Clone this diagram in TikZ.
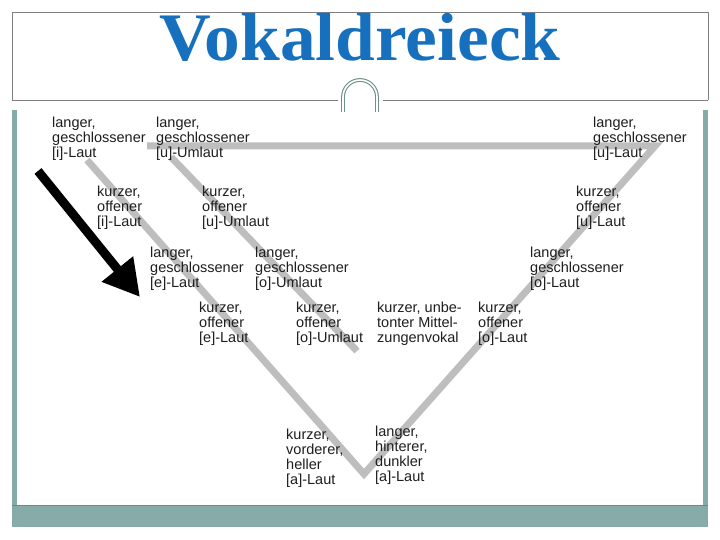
\documentclass[tikz,border=0pt]{standalone}
\usepackage{fontspec}
\setmainfont{Liberation Sans}
\newfontfamily\titlefont{Liberation Serif}
\usetikzlibrary{arrows.meta}
\definecolor{titleblue}{RGB}{22,112,190}
\definecolor{framegray}{RGB}{128,128,128}
\definecolor{teal1}{RGB}{135,171,169}
\definecolor{ornament}{RGB}{111,143,139}
\definecolor{vline}{RGB}{190,190,190}
\definecolor{labeltext}{RGB}{30,30,30}
\tikzset{
  lbl/.style={anchor=north west, inner sep=0pt, align=left, text=labeltext,
    font=\fontsize{14.5}{15.2}\selectfont},
  tri/.style={draw=vline, line width=7pt, line cap=butt},
  frameline/.style={draw=framegray, line width=0.9pt},
}
\begin{document}
\begin{tikzpicture}[x=1pt,y=-1pt]
\useasboundingbox (0,0) rectangle (720,540);
\fill[white] (0,0) rectangle (720,540);
% frame
\draw[frameline] (12,100) -- (12,12.5) -- (708,12.5) -- (708,100);
\coordinate (hl1) at (12,100);
\coordinate (hl2) at (338,100);
\coordinate (hl3) at (383,100);
\coordinate (hl4) at (708,100);
\draw[frameline] (hl1) -- (hl2);
\draw[frameline] (hl3) -- (hl4);
% ornament
\draw[ornament, line width=1.1pt, double=white, double distance=1.6pt]
  (343,112) -- (343,97) arc[start angle=180, end angle=360, radius=17] -- (377,112);
% side stripes and bottom bar
\fill[teal1] (12,110) rectangle (16.5,505);
\fill[teal1] (703,110) rectangle (707.5,505);
\fill[teal1] (12,505) rectangle (708,527);
\draw[teal1!80!black, line width=0.6pt] (12,505) -- (708,505);
% title
\node[anchor=base, text=titleblue, inner sep=0pt] (title) at (360,61)
  {\scalebox{1.05}[1]{\titlefont\bfseries\fontsize{68}{68}\selectfont Vokaldreieck}};
% triangle
\coordinate (iV) at (87,160);
\coordinate (aV) at (364,474);
\coordinate (uV) at (655,146);
\coordinate (tS) at (147,146);
\coordinate (d2a) at (171,157);
\coordinate (d2b) at (357,351);
\draw[tri, line join=miter] (iV) -- (aV) -- (uV) -- (tS);
\draw[tri] (d2a) -- (d2b);
% arrow
\coordinate (arS) at (38,171);
\coordinate (arE) at (140,297);
\draw[line width=9pt, -{Triangle[length=36pt,width=38pt]}] (arS) -- (arE);
% labels
\node[lbl] (l1) at (52,116.6) {langer,\\geschlossener\\{[i]}-Laut};
\node[lbl] (l2) at (156,116.6) {langer,\\geschlossener\\{[u]}-Umlaut};
\node[lbl] (l3) at (593,116.6) {langer,\\geschlossener\\{[u]}-Laut};
\node[lbl] (l4) at (97,185.6) {kurzer,\\offener\\{[i]}-Laut};
\node[lbl] (l5) at (202,185.6) {kurzer,\\offener\\{[u]}-Umlaut};
\node[lbl] (l6) at (576,185.6) {kurzer,\\offener\\{[u]}-Laut};
\node[lbl] (l7) at (150,246.6) {langer,\\geschlossener\\{[e]}-Laut};
\node[lbl] (l8) at (255,246.6) {langer,\\geschlossener\\{[o]}-Umlaut};
\node[lbl] (l9) at (530,246.6) {langer,\\geschlossener\\{[o]}-Laut};
\node[lbl] (l10) at (199,301.6) {kurzer,\\offener\\{[e]}-Laut};
\node[lbl] (l11) at (296,301.6) {kurzer,\\offener\\{[o]}-Umlaut};
\node[lbl] (l12) at (377,301.6) {kurzer, unbe-\\tonter Mittel-\\zungenvokal};
\node[lbl] (l13) at (478,301.6) {kurzer,\\offener\\{[o]}-Laut};
\node[lbl] (l14) at (286,428.6) {kurzer,\\vorderer,\\heller\\{[a]}-Laut};
\node[lbl] (l15) at (375,425.6) {langer,\\hinterer,\\dunkler\\{[a]}-Laut};
\end{tikzpicture}
\end{document}
